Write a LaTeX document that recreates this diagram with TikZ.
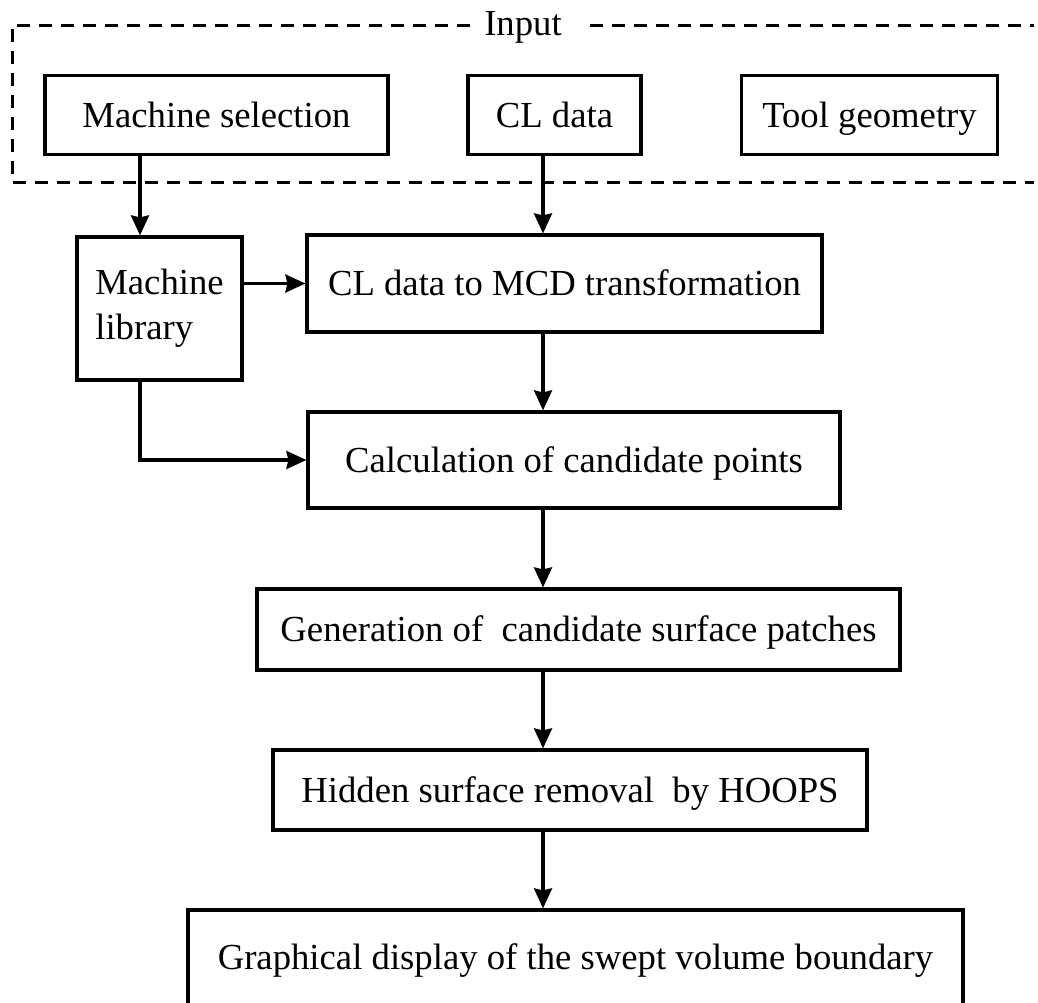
\documentclass[tikz,border=0pt]{standalone}
\usepackage{fontspec}
\setmainfont{Liberation Serif}
\usetikzlibrary{arrows.meta}
\begin{document}
\begin{tikzpicture}[x=1pt,y=-1pt,
  txt/.style={font=\fontsize{36.7}{45}\selectfont},
  box/.style={txt, draw, line width=3.2pt, rectangle, inner sep=0pt, align=center},
  onerow/.style={text height=24pt, text depth=0pt},
  arr/.style={line width=3.2pt, -{Stealth[length=20pt,width=18pt,inset=2pt]}},
  frame/.style={line width=3pt, dash pattern=on 13pt off 9pt}
]
\useasboundingbox (0,0) rectangle (1038,1002);

% columns used by the connectors
\coordinate (lcol) at (140,0);
\coordinate (spine) at (543,0);

% input group
\node[txt, anchor=base, inner sep=0pt] (inp) at (523,35) {Input};
\draw[frame] (470,25) -- (12,25) -- (12,182) -- (1034,182);
\draw[frame] (590,25) -- (1034,25);

\node[box, onerow, minimum width=343pt, minimum height=79pt] (ms) at (216.5,115) {Machine selection};
\node[box, onerow, minimum width=173pt, minimum height=79pt] (cl) at (554.5,115) {CL data};
\node[box, onerow, minimum width=256pt, minimum height=79pt] (tg) at (869.5,115) {Tool geometry};

% processing chain
\node[box, align=left, minimum width=165pt, minimum height=143pt] (ml) at (159.5,308.5) {Machine\\library};
\node[box, onerow, minimum width=515pt, minimum height=97pt] (mcd) at (564.5,283.5) {CL data to MCD transformation};
\node[box, onerow, minimum width=532pt, minimum height=96pt] (calc) at (574,460) {Calculation of candidate points};
\node[box, onerow, minimum width=643pt, minimum height=81pt] (gen) at (578.5,629.5) {Generation of\ \ candidate surface patches};
\node[box, onerow, minimum width=594pt, minimum height=80pt] (hid) at (570,790) {Hidden surface removal\ \ by HOOPS};
\node[box, onerow, minimum width=775pt, minimum height=95pt] (gfx) at (575.5,957.5) {Graphical display of the swept volume boundary};

% connectors
\draw[arr] (ms.south -| lcol) -- (ml.north -| lcol);
\draw[arr] (cl.south -| spine) -- (mcd.north -| spine);
\draw[arr] (ml.east |- mcd.west) -- (mcd.west);
\draw[arr] (ml.south -| lcol) |- (calc.west);
\draw[arr] (mcd.south -| spine) -- (calc.north -| spine);
\draw[arr] (calc.south -| spine) -- (gen.north -| spine);
\draw[arr] (gen.south -| spine) -- (hid.north -| spine);
\draw[arr] (hid.south -| spine) -- (gfx.north -| spine);
\end{tikzpicture}
\end{document}
